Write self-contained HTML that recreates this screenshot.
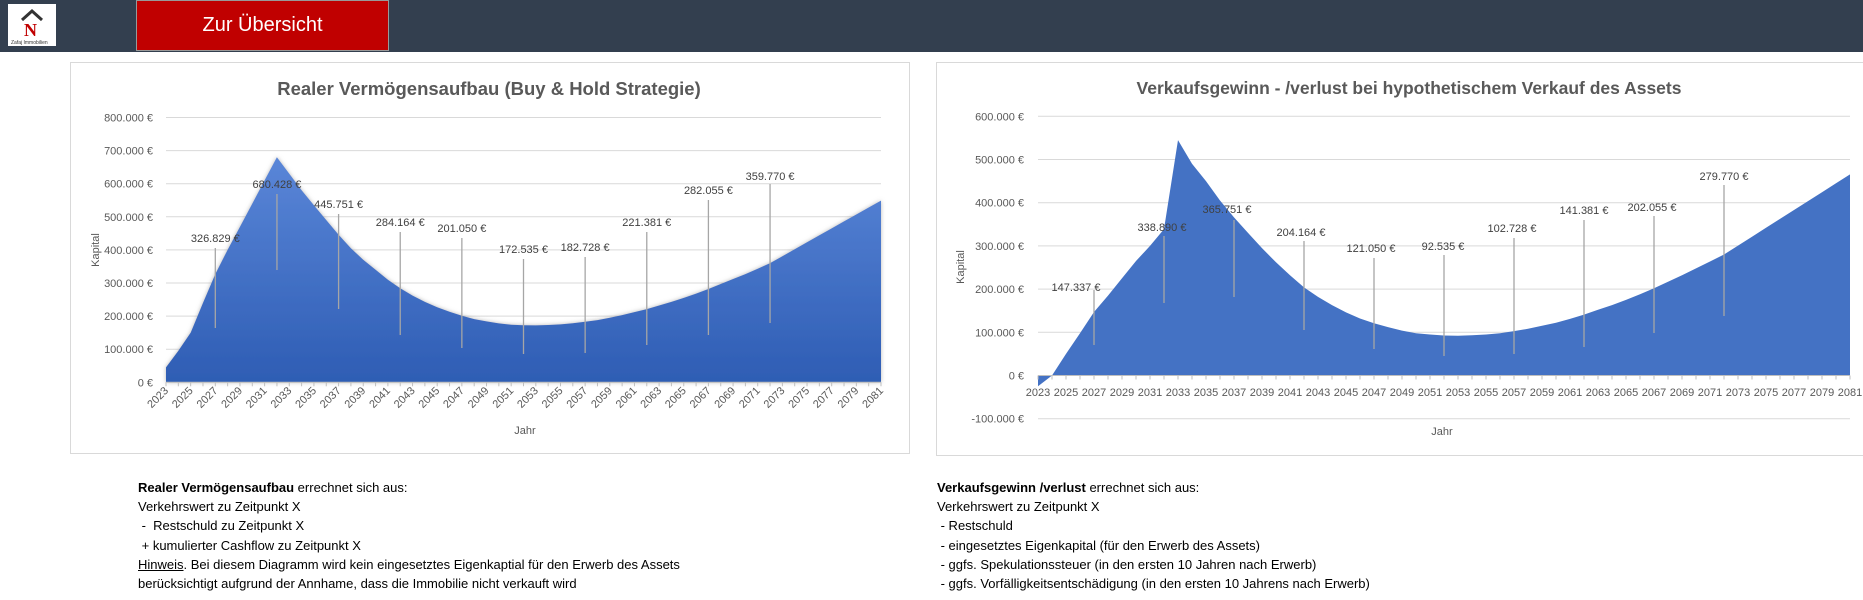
<!DOCTYPE html>
<html><head><meta charset="utf-8">
<style>
html,body{margin:0;padding:0;width:1863px;height:600px;overflow:hidden;background:#fff;font-family:"Liberation Sans",sans-serif}
#hdr{position:absolute;left:0;top:0;width:1863px;height:52px;background:#333f4f}
#logo{position:absolute;left:8px;top:4px;width:48px;height:42px;background:#fff}
#btn{position:absolute;left:136px;top:0;width:251px;height:49px;background:#c00000;border:1px solid #999;color:#fff;font-size:20px;text-align:center;line-height:48px}
.txt{position:absolute;font-size:13px;line-height:19.2px;color:#000}
</style></head><body>
<div id="hdr"></div>
<div id="logo"><svg width="48" height="42"><path d="M14 16 L24 7 L34 16" fill="none" stroke="#333" stroke-width="3"/><text x="16" y="32" font-size="18" font-weight="bold" fill="#c00000" font-family="Liberation Serif,serif">N</text><text x="3" y="40" font-size="5" fill="#333">Zafaj Immobilien</text></svg></div>
<div id="btn">Zur Übersicht</div>
<svg id="s" width="1863" height="600" style="position:absolute;left:0;top:0"></svg>
<div class="txt" style="left:138px;top:478px"><b>Realer Vermögensaufbau</b> errechnet sich aus:<br>Verkehrswert zu Zeitpunkt X<br>&nbsp;-&nbsp; Restschuld zu Zeitpunkt X<br>&nbsp;+ kumulierter Cashflow zu Zeitpunkt X<br><u>Hinweis</u>. Bei diesem Diagramm wird kein eingesetztes Eigenkaptial für den Erwerb des Assets<br>berücksichtigt aufgrund der Annhame, dass die Immobilie nicht verkauft wird</div>
<div class="txt" style="left:937px;top:478px"><b>Verkaufsgewinn /verlust</b> errechnet sich aus:<br>Verkehrswert zu Zeitpunkt X<br>&nbsp;- Restschuld<br>&nbsp;- eingesetztes Eigenkapital (für den Erwerb des Assets)<br>&nbsp;- ggfs. Spekulationssteuer (in den ersten 10 Jahren nach Erwerb)<br>&nbsp;- ggfs. Vorfälligkeitsentschädigung (in den ersten 10 Jahrens nach Erwerb)</div>
<script>
var L=[45,95,150,240,327,400,470,540,610,680,630,580,535,490,446,405,370,340,310,284,262,243,227,213,201,191,184,178,174,172.5,172,173,175,178.5,182.7,188,195,203,212,221,232,243,255,268,282,297,312,327,343,360];
while(L.length<59)L.push(L[L.length-1]+21);
var R=[-25,0,50,98,147,185,225,265,300,339,545,490,450,405,366,330,295,262,232,204,182,163,146,132,121,112,104,98,95,92.5,92,93,95,98,102.7,108,115,122,131,141,152,163,175,188,202,217,232,248,264,280];
while(R.length<59)R.push(R[R.length-1]+20.6);
var h='';
function t(x,y,s,o){return '<text x="'+x+'" y="'+y+'" '+(o||'')+'>'+s+'</text>';}
function fmt(v){if(v==0)return '0 €';var n=Math.abs(v);var s=String(n).replace(/\B(?=(\d{3})+(?!\d))/g,'.');return (v<0?'-':'')+s+' €';}
h+='<rect x="70.5" y="62.5" width="839" height="391" fill="#fff" stroke="#d9d9d9"/>';
h+='<rect x="936.5" y="62.5" width="940" height="393" fill="#fff" stroke="#d9d9d9"/>';
h+='<defs><linearGradient id="g" x1="0" y1="0" x2="0" y2="1"><stop offset="0" stop-color="#5a86d8"/><stop offset="1" stop-color="#2e5db4"/></linearGradient><filter id="sh"><feDropShadow dx="0" dy="0" stdDeviation="2" flood-color="#888" flood-opacity="0.6"/></filter></defs>';
// Left chart
var x0=166,dx=(881-166)/58,y0=382.3,ky=33.1/100;
h+=t(489,95,'Realer Vermögensaufbau (Buy &amp; Hold Strategie)','font-size="18.5" font-weight="bold" fill="#595959" text-anchor="middle"');
for(var i=0;i<=8;i++){var y=y0-i*100*ky;h+='<line x1="166" x2="881" y1="'+y+'" y2="'+y+'" stroke="#d9d9d9"/>';h+=t(153,y+4,fmt(i*100000),'font-size="11" fill="#595959" text-anchor="end"');}
var p='M'+x0+' '+y0;for(i=0;i<59;i++)p+=' L'+(x0+i*dx).toFixed(1)+' '+(y0-L[i]*ky).toFixed(1);p+=' L881 '+y0+' Z';
h+='<path d="'+p+'" fill="url(#g)" filter="url(#sh)"/>';
h+='<line x1="166" x2="881" y1="'+y0+'" y2="'+y0+'" stroke="#bfbfbf"/>';
for(i=0;i<59;i++){var x=x0+i*dx;h+='<line x1="'+x+'" x2="'+x+'" y1="'+y0+'" y2="'+(y0+4)+'" stroke="#bfbfbf"/>';if(i%2==0)h+=t(x+3,y0+9,2023+i,'font-size="11" fill="#595959" text-anchor="end" transform="rotate(-45 '+(x+3)+' '+(y0+9)+')"');}
h+=t(525,434,'Jahr','font-size="11" fill="#595959" text-anchor="middle"');
h+=t(99,250,'Kapital','font-size="11" fill="#595959" text-anchor="middle" transform="rotate(-90 99 250)"');
var LL=[[4,'326.829',238,248,328],[9,'680.428',184,194,270],[14,'445.751',204,214,309],[19,'284.164',222,232,335],[24,'201.050',228,238,348],[29,'172.535',249,259,354],[34,'182.728',247,257,353],[39,'221.381',222,232,345],[44,'282.055',190,200,335],[49,'359.770',176,184,323]];
LL.forEach(function(a){var x=x0+a[0]*dx;h+='<line x1="'+x+'" x2="'+x+'" y1="'+a[3]+'" y2="'+a[4]+'" stroke="#a6a6a6" stroke-width="1.3"/>';h+=t(x,a[2]+4,a[1]+' €','font-size="11" fill="#404040" text-anchor="middle"');});
// Right chart
var X0=1038,DX=(1850-1038)/58,Y0=375.5,KY=43.2/100;
h+=t(1409,94,'Verkaufsgewinn - /verlust bei hypothetischem Verkauf des Assets','font-size="17.5" font-weight="bold" fill="#595959" text-anchor="middle"');
for(i=-1;i<=6;i++){var y=Y0-i*100*KY;h+='<line x1="1038" x2="1850" y1="'+y+'" y2="'+y+'" stroke="#d9d9d9"/>';h+=t(1024,y+4,fmt(i*100000),'font-size="11" fill="#595959" text-anchor="end"');}
p='M'+X0+' '+Y0;for(i=0;i<59;i++)p+=' L'+(X0+i*DX).toFixed(1)+' '+(Y0-R[i]*KY).toFixed(1);p+=' L1850 '+Y0+' Z';
h+='<path d="'+p+'" fill="#4472c4"/>';
h+='<line x1="1038" x2="1850" y1="'+Y0+'" y2="'+Y0+'" stroke="#bfbfbf"/>';
for(i=0;i<59;i++){var x=X0+i*DX;h+='<line x1="'+x+'" x2="'+x+'" y1="'+Y0+'" y2="'+(Y0+4)+'" stroke="#bfbfbf"/>';if(i%2==0)h+=t(x,396,2023+i,'font-size="11" fill="#595959" text-anchor="middle"');}
h+=t(1442,435,'Jahr','font-size="11" fill="#595959" text-anchor="middle"');
h+=t(964,267,'Kapital','font-size="11" fill="#595959" text-anchor="middle" transform="rotate(-90 964 267)"');
var RL=[[4,'147.337',1076,287,290,345],[9,'338.890',1162,227,236,303],[14,'365.751',1227,209,220,297],[19,'204.164',1301,232,241,330],[24,'121.050',1371,248,258,349],[29,'92.535',1443,246,255,356],[34,'102.728',1512,228,238,354],[39,'141.381',1584,210,220,347],[44,'202.055',1652,207,216,333],[49,'279.770',1724,176,185,316]];
RL.forEach(function(a){var x=X0+a[0]*DX;h+='<line x1="'+x+'" x2="'+x+'" y1="'+a[4]+'" y2="'+a[5]+'" stroke="#a6a6a6" stroke-width="1.3"/>';h+=t(a[2],a[3]+4,a[1]+' €','font-size="11" fill="#404040" text-anchor="middle"');});
document.getElementById('s').innerHTML=h;
</script>
</body></html>
